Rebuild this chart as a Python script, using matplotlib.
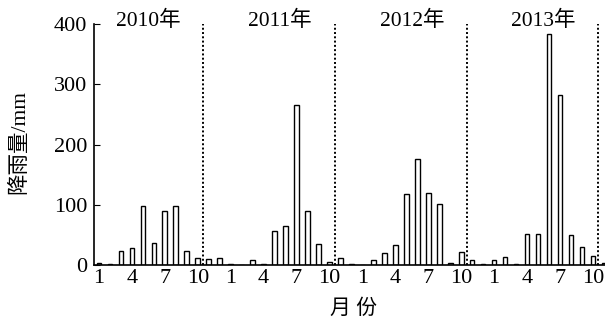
import numpy as np
import matplotlib
matplotlib.use("Agg")
import matplotlib.pyplot as plt

plt.rcParams['font.family'] = ['Liberation Serif', 'Noto Sans CJK SC']

years = ['2010年', '2011年', '2012年', '2013年']
rain_2010 = [3, 1, 23, 29, 98, 36, 90, 98, 24, 11, 10, 12]
rain_2011 = [2, 0, 8, 2, 56, 65, 266, 89, 35, 5, 11, 1]
rain_2012 = [0, 8, 20, 33, 118, 176, 120, 101, 4, 22, 8, 2]
rain_2013 = [9, 13, 2, 52, 52, 384, 282, 49, 30, 15, 4, 3]
month_ticks = [1, 4, 7, 10]

rain = rain_2010 + rain_2011 + rain_2012 + rain_2013
x = np.arange(len(rain))

fig = plt.figure(figsize=(6.05, 3.2), dpi=100)
ax = fig.add_axes([94/605, 55/320, 511/605, 241/320])

ax.bar(x, rain, width=0.42, color='white', edgecolor='black', linewidth=1.0)

for k, yr in enumerate(years):
    ax.axvline(12*k + 9.5, ymin=0, ymax=1, color='black', linestyle=(0, (1, 1.2)), linewidth=1.4)
    ax.text(12*k + 4.5, 406, yr, ha='center', va='center', fontsize=15.5, clip_on=False)

tick_pos = [12*k + m - 1 for k in range(len(years)) for m in month_ticks]
tick_lab = [str(m) for k in range(len(years)) for m in month_ticks]
ax.set_xticks(tick_pos)
ax.set_xticklabels(tick_lab, fontsize=16)
ax.tick_params(axis='x', length=0, pad=3)

ax.set_yticks([0, 100, 200, 300, 400])
ax.tick_params(axis='y', direction='in', length=4, labelsize=16, pad=5)

ax.set_xlim(-0.45, 46.1)
ax.set_ylim(0, 400)

ax.spines['top'].set_visible(False)
ax.spines['right'].set_visible(False)
ax.spines['left'].set_linewidth(1.2)
ax.spines['bottom'].set_linewidth(1.2)

fig.text(19/605, 1 - 142/320, '降雨量/mm', rotation=90, ha='center', va='center', fontsize=15.5)
fig.text(353/605, 1 - 309/320, '月 份', ha='center', va='center', fontsize=15)

plt.savefig('out.png', dpi=100)
